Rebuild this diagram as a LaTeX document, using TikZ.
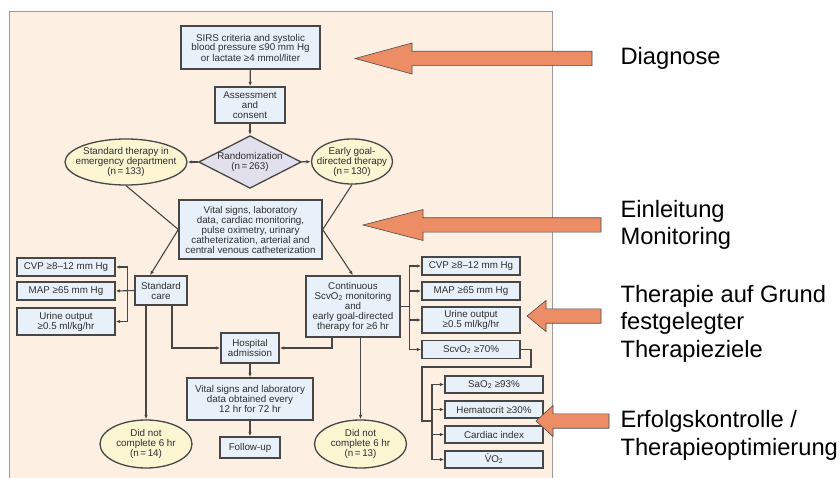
\documentclass[tikz,border=0pt]{standalone}
\usepackage{fontspec}
\setmainfont{Liberation Sans}
\usetikzlibrary{shapes.geometric,arrows.meta}
\definecolor{panelfill}{HTML}{FDF0E3}
\definecolor{panelline}{HTML}{9A9A9A}
\definecolor{boxfill}{HTML}{E8F1FA}
\definecolor{boxline}{HTML}{474747}
\definecolor{ellfill}{HTML}{FBF5D2}
\definecolor{randfill}{HTML}{E3E0EE}
\definecolor{arrowfill}{HTML}{EC8D65}
\definecolor{flowtext}{HTML}{2E2E2E}
\newcommand\flowfont{\fontsize{9.8}{10}\selectfont}
\newcommand\Vdot{\ooalign{V\cr\hidewidth\raisebox{0.78em}{.}\hidewidth\cr}}

\begin{document}
\begin{tikzpicture}[x=1pt,y=-1pt,
	box/.style={rectangle, draw=boxline, fill=boxfill, line width=1.3pt, inner sep=0pt, align=center, text=flowtext, font=\flowfont},
	oval/.style={ellipse, draw=boxline, fill=ellfill, line width=1.3pt, inner xsep=-15pt, inner ysep=-4pt, align=center, text=flowtext, font=\flowfont},
	conn/.style={draw=boxline, line width=1.1pt},
	conntip/.style={conn, -{Latex[length=4.5pt,width=3.5pt]}},
	blockarrow/.style={draw=black!70, line width=0.6pt, fill=arrowfill},
	stage/.style={anchor=base west, align=left, font=\fontsize{23.7}{27.5}\selectfont}]
	\useasboundingbox (0,0) rectangle (840,478);
	\fill[white] (0,0) rectangle (840,478);
	\draw[fill=panelfill, draw=panelline, line width=1pt] (9,12) rectangle (552,500);

	% flow chart
	\node (sirs)    at (250.5, 47.5)	[box, minimum width=139pt, minimum height=43pt]	{SIRS criteria and systolic\\blood pressure ≤90 mm Hg\\or lactate ≥4 mmol/liter};
	\node (assess)  at (250, 105)		[box, minimum width=70pt, minimum height=36pt]	{Assessment\\and\\consent};
	\node (rand)    at (250, 162)		[diamond, aspect=1.95, draw=boxline, fill=randfill, line width=1.3pt, inner sep=0pt, minimum width=97pt, minimum height=50pt, align=center, text=flowtext, font=\flowfont]	{Randomization\\(n\,=\,263)};
	\node (stdther) at (126, 162)		[oval, minimum width=122pt, minimum height=46pt]	{Standard therapy in\\emergency department\\(n\,=\,133)};
	\node (egdt)    at (352, 161.5)		[oval, minimum width=81pt, minimum height=45pt]	{Early goal-\\directed therapy\\(n\,=\,130)};
	\node (vital)   at (250.5, 229.5)	[box, minimum width=143pt, minimum height=59pt]	{Vital signs, laboratory\\data, cardiac monitoring,\\pulse oximetry, urinary\\catheterization, arterial and\\central venous catheterization};
	\node (stdcare) at (161, 290.5)		[box, minimum width=52pt, minimum height=29pt]	{Standard\\care};
	\node (cont)    at (353, 306.5)		[box, minimum width=94pt, minimum height=61pt]	{Continuous\\ScvO\textsubscript{2} monitoring\\and\\early goal-directed\\therapy for ≥6 hr};
	\node (hosp)    at (250, 348)		[box, minimum width=58pt, minimum height=30pt]	{Hospital\\admission};
	\node (vitals2) at (250, 399)		[box, minimum width=126pt, minimum height=42pt]	{Vital signs and laboratory\\data obtained every\\12 hr for 72 hr};
	\node (follow)  at (250, 447.5)		[box, minimum width=60pt, minimum height=21pt]	{Follow-up};
	\node (lquit)   at (146, 444)		[oval, minimum width=92pt, minimum height=48pt]	{Did not\\complete 6 hr\\(n\,=\,14)};
	\node (rquit)   at (360.5, 444)		[oval, minimum width=92pt, minimum height=48pt]	{Did not\\complete 6 hr\\(n\,=\,13)};

	% goals, standard care
	\node (lcvp)    at (66, 267)		[box, minimum width=98pt, minimum height=18pt]	{CVP ≥8–12 mm Hg};
	\node (lmap)    at (66, 291)		[box, minimum width=98pt, minimum height=18pt]	{MAP ≥65 mm Hg};
	\node (lurine)  at (66, 321.5)		[box, minimum width=98pt, minimum height=27pt]	{Urine output\\≥0.5 ml/kg/hr};

	% goals, early goal-directed therapy
	\node (rcvp)    at (471, 266)		[box, minimum width=98pt, minimum height=18pt]	{CVP ≥8–12 mm Hg};
	\node (rmap)    at (471, 291)		[box, minimum width=98pt, minimum height=18pt]	{MAP ≥65 mm Hg};
	\node (rurine)  at (471, 320)		[box, minimum width=98pt, minimum height=26pt]	{Urine output\\≥0.5 ml/kg/hr};
	\node (rscvo)   at (471, 349.5)		[box, minimum width=98pt, minimum height=18pt]	{ScvO\textsubscript{2} ≥70\%};
	\node (sao)     at (494, 384.5)		[box, minimum width=98pt, minimum height=17pt]	{SaO\textsubscript{2} ≥93\%};
	\node (hct)     at (494, 409.5)		[box, minimum width=98pt, minimum height=17pt]	{Hematocrit ≥30\%};
	\node (ci)      at (494, 434.5)		[box, minimum width=98pt, minimum height=17pt]	{Cardiac index};
	\node (vo)      at (494, 459.5)		[box, minimum width=98pt, minimum height=17pt]	{\Vdot O\textsubscript{2}};

	\draw[conntip] (sirs) -- (assess);
	\draw[conntip] (assess) -- (rand);
	\draw[conntip] (rand) -- (stdther);
	\draw[conntip] (rand) -- (egdt);
	\draw[conn] (stdther.south) -- (vital.west);
	\draw[conn] (egdt.south) -- (vital.east);
	\draw[conntip] (vital.west) -- ([xshift=-11pt]stdcare.north);
	\draw[conntip] (vital.east) -- (cont.north);

	\coordinate (lfork) at ([xshift=-7pt]stdcare.west);
	\draw[conntip] (stdcare.west) -- (lmap.east);
	\draw[conntip] (lfork) |- (lcvp.east);
	\draw[conntip] (lfork) |- (lurine.east);
	\draw[conntip] (stdcare.south -| lquit.north) -- (lquit.north);
	\draw[conntip] ([xshift=11pt]stdcare.south) |- (hosp.west);
	\draw[conntip] ([xshift=-21pt]cont.south) |- (hosp.east);
	\draw[conntip] (cont.south -| rquit.north) -- (rquit.north);
	\draw[conntip] (hosp) -- (vitals2);
	\draw[conntip] (vitals2) -- (follow);

	\coordinate (rfork) at ([xshift=9pt]cont.east);
	\draw[conn] (cont.east) -- (rfork);
	\draw[conntip] (rfork) |- (rcvp.west);
	\draw[conntip] (rfork) |- (rmap.west);
	\draw[conntip] (rfork) |- (rurine.west);
	\draw[conntip] (rfork) |- (rscvo.west);

	\coordinate (loopa) at (531, 367);
	\coordinate (loopb) at (422, 421);
	\coordinate (sfork) at (432, 421);
	\draw[conn] (rscvo.east) -| (loopa) -| (loopb) -- (sfork);
	\draw[conntip] (sfork) |- (sao.west);
	\draw[conntip] (sfork) |- (hct.west);
	\draw[conntip] (sfork) |- (ci.west);
	\draw[conntip] (sfork) |- (vo.west);

	% pointers
	\foreach \tx/\ty/\bx/\ex in {355/58.5/412/592, 363/225/423/601, 527/316/546/601, 536/421/553/609}
		\draw[blockarrow] (\tx,\ty) -- (\bx,\ty-15.5) -- (\bx,\ty-7.2) -- (\ex,\ty-7.2) -- (\ex,\ty+7.2) -- (\bx,\ty+7.2) -- (\bx,\ty+15.5) -- cycle;

	% base of a node with several lines is its last line
	\node (diag)   at (617, 65)		[stage]	{Diagnose};
	\node (einl)   at (617, 245)	[stage]	{Einleitung\\Monitoring};
	\node (ther)   at (617, 357)	[stage]	{Therapie auf Grund\\festgelegter\\Therapieziele};
	\node (erfolg) at (617, 455)	[stage]	{Erfolgskontrolle /\\Therapieoptimierung};
\end{tikzpicture}
\end{document}
